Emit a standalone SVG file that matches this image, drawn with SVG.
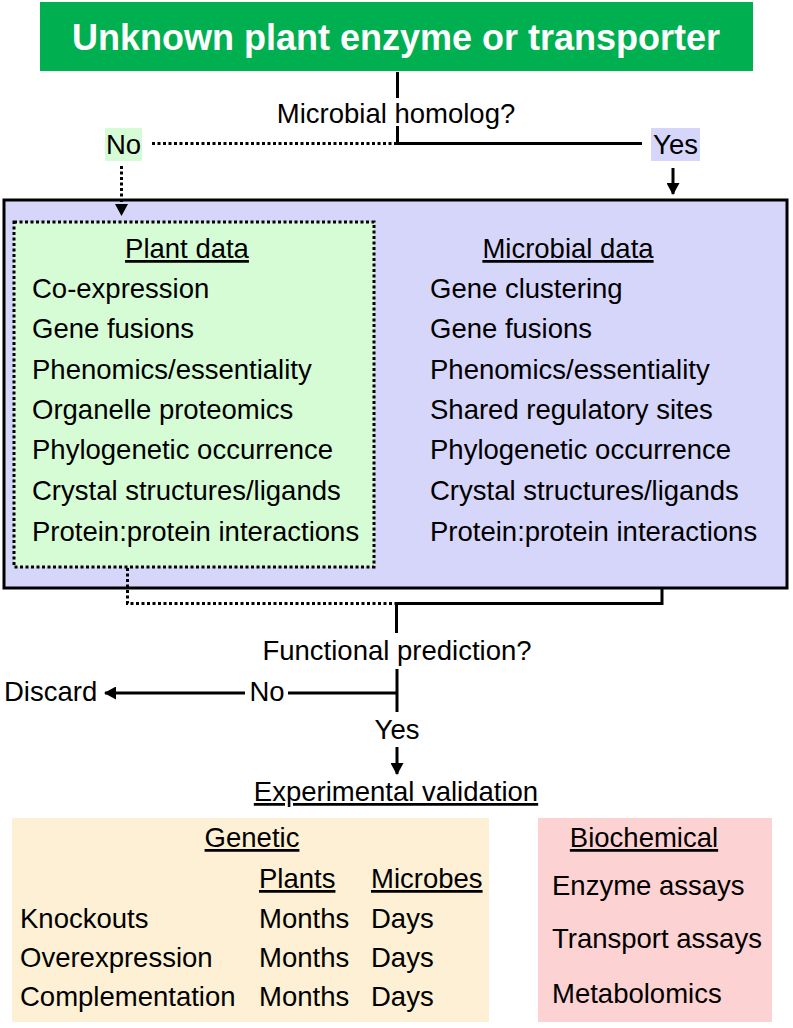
<svg xmlns="http://www.w3.org/2000/svg" width="793" height="1028" viewBox="0 0 793 1028">
<style>
text{font-family:"Liberation Sans",Arial,sans-serif;font-size:27.5px;fill:#000}
.u{text-decoration:underline}
.ln{fill:none;stroke:#000;stroke-width:3}
.dot{fill:none;stroke:#000;stroke-width:3;stroke-dasharray:3 2.5}
.mid{text-anchor:middle}
</style>
<defs>
<marker id="ah" viewBox="0 0 12 13" refX="11" refY="6.5" markerWidth="12" markerHeight="13" orient="auto" markerUnits="userSpaceOnUse">
<path d="M0,0L12,6.5L0,13z" fill="#000"/>
</marker>
</defs>
<rect width="793" height="1028" fill="#fff"/>
<g id="title">
<rect x="40" y="2" width="713" height="69" fill="#00b050"/>
<text x="396" y="50" class="mid" style="font-size:36px;font-weight:bold;fill:#fff">Unknown plant enzyme or transporter</text>
</g>
<g id="q1">
<text x="396" y="123" class="mid">Microbial homolog?</text>
</g>
<g id="no1">
<rect x="105" y="128" width="37" height="33" fill="#d6fcd6"/>
<text x="123.5" y="154" class="mid">No</text>
</g>
<g id="yes1">
<rect x="651" y="128" width="49" height="33" fill="#d6d6fa"/>
<text x="675.5" y="154" class="mid">Yes</text>
</g>
<g id="data">
<rect x="4" y="200" width="783" height="388" fill="#d6d6fa" stroke="#000" stroke-width="3"/>
</g>
<g id="plant">
<rect x="14" y="222" width="360" height="345" fill="#d6fcd6" stroke="#000" stroke-width="3" stroke-dasharray="3 2.5"/>
<text x="187" y="258" class="mid u">Plant data</text>
<text x="32" y="298">Co-expression</text>
<text x="32" y="338">Gene fusions</text>
<text x="32" y="379">Phenomics/essentiality</text>
<text x="32" y="419">Organelle proteomics</text>
<text x="32" y="459">Phylogenetic occurrence</text>
<text x="32" y="500">Crystal structures/ligands</text>
<text x="32" y="541">Protein:protein interactions</text>
</g>
<g id="microbial">
<text x="568" y="258" class="mid u">Microbial data</text>
<text x="430" y="298">Gene clustering</text>
<text x="430" y="338">Gene fusions</text>
<text x="430" y="379">Phenomics/essentiality</text>
<text x="430" y="419">Shared regulatory sites</text>
<text x="430" y="459">Phylogenetic occurrence</text>
<text x="430" y="500">Crystal structures/ligands</text>
<text x="430" y="541">Protein:protein interactions</text>
</g>
<g id="q2">
<text x="397" y="660" class="mid">Functional prediction?</text>
</g>
<g id="no2">
<text x="267" y="701" class="mid">No</text>
</g>
<g id="discard">
<text x="4" y="701">Discard</text>
</g>
<g id="yes2">
<text x="397" y="739" class="mid">Yes</text>
</g>
<g id="exp">
<text x="396" y="801" class="mid u">Experimental validation</text>
</g>
<g id="genetic">
<rect x="12" y="818" width="477" height="204" fill="#fdf0d4"/>
<text x="252" y="847" class="mid u">Genetic</text>
<text x="259" y="888" class="u">Plants</text>
<text x="371" y="888" class="u">Microbes</text>
<text x="20" y="928">Knockouts</text>
<text x="259" y="928">Months</text>
<text x="371" y="928">Days</text>
<text x="20" y="967">Overexpression</text>
<text x="259" y="967">Months</text>
<text x="371" y="967">Days</text>
<text x="20" y="1006">Complementation</text>
<text x="259" y="1006">Months</text>
<text x="371" y="1006">Days</text>
</g>
<g id="biochemical">
<rect x="538" y="818" width="234" height="204" fill="#fdd2d2"/>
<text x="644" y="847" class="mid u">Biochemical</text>
<text x="552" y="895">Enzyme assays</text>
<text x="552" y="948">Transport assays</text>
<text x="552" y="1003">Metabolomics</text>
</g>
<g id="connectors">
<path class="ln" d="M397.5,72V98"/>
<path class="ln" d="M397.5,126V143.5H642"/>
<path class="dot" d="M397,143.5H152"/>
<path class="dot" d="M121.5,166V215" marker-end="url(#ah)"/>
<path class="ln" d="M673,168V194" marker-end="url(#ah)"/>
<path class="dot" d="M127.5,568V603.5H397"/>
<path class="ln" d="M396.5,603.5H662V588"/>
<path class="ln" d="M396.5,603.5V633"/>
<path class="ln" d="M397,669V712"/>
<path class="ln" d="M397,693H288"/>
<path class="ln" d="M245,693H105" marker-end="url(#ah)"/>
<path class="ln" d="M397,747V774" marker-end="url(#ah)"/>
</g>
</svg>
